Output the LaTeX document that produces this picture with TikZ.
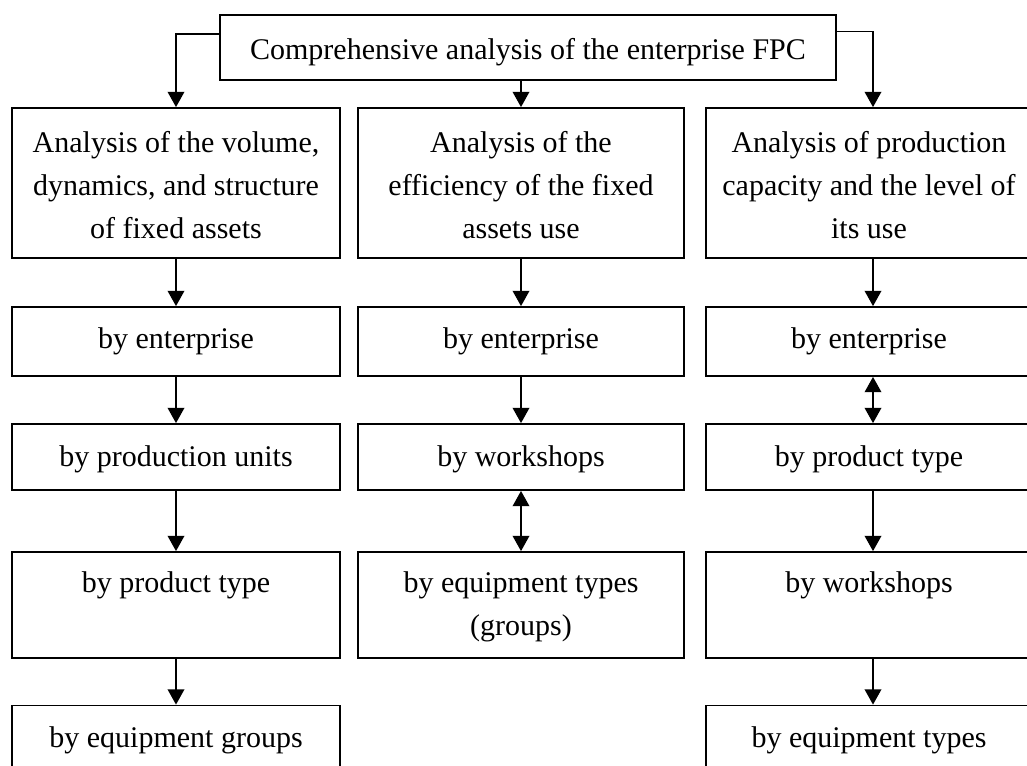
\documentclass[tikz,border=0pt]{standalone}
\usepackage{fontspec}
\setmainfont{Liberation Serif}
\usetikzlibrary{arrows.meta}
\newcommand{\lift}[1]{\rule{0pt}{#1}}
\begin{document}
\begin{tikzpicture}[x=0.75pt,y=-0.75pt,
  box/.style={draw,line width=1.35pt,inner sep=0pt,align=center,font=\fontsize{22.5}{32.25}\selectfont},
  colL/.style={box,minimum width=246pt},
  colM/.style={box,minimum width=244.5pt},
  colR/.style={box,minimum width=244.5pt},
  arr/.style={line width=1.2pt,-{Triangle[length=11.5pt,width=12.5pt]}},
  darr/.style={line width=1.2pt,{Triangle[length=11.5pt,width=12.5pt]}-{Triangle[length=11.5pt,width=12.5pt]}}]
\clip (0,0) rectangle (1027,765);
\fill[white] (0,0) rectangle (1027,765);
% top
\node[box,minimum width=462pt,minimum height=48.75pt] (top) at (528,47.5) {\lift{23.5pt}Comprehensive analysis of the enterprise FPC};
% row 1
\node[colL,minimum height=112.5pt] (L1) at (176,183) {\lift{19.5pt}Analysis of the volume,\\dynamics, and structure\\of fixed assets};
\node[colM,minimum height=112.5pt] (M1) at (521,183) {\lift{19.5pt}Analysis of the\\efficiency of the fixed\\assets use};
\node[colR,minimum height=112.5pt] (R1) at (869,183) {\lift{19.5pt}Analysis of production\\capacity and the level of\\its use};
% row 2
\node[colL,minimum height=51.75pt] (L2) at (176,341.5) {by enterprise};
\node[colM,minimum height=51.75pt] (M2) at (521,341.5) {by enterprise};
\node[colR,minimum height=51.75pt] (R2) at (869,341.5) {by enterprise};
% row 3
\node[colL,minimum height=49.5pt] (L3) at (176,457) {\lift{19pt}by production units};
\node[colM,minimum height=49.5pt] (M3) at (521,457) {\lift{19pt}by workshops};
\node[colR,minimum height=49.5pt] (R3) at (869,457) {\lift{19pt}by product type};
% row 4
\node[colL,minimum height=79.5pt] (L4) at (176,605) {\lift{19pt}by product type\\\vphantom{(}};
\node[colM,minimum height=79.5pt] (M4) at (521,605) {\lift{19pt}by equipment types\\(groups)};
\node[colR,minimum height=79.5pt] (R4) at (869,605) {\lift{19pt}by workshops\\\vphantom{(}};
% row 5
\node[colL,minimum height=51.75pt] (L5) at (176,740) {by equipment groups};
\node[colR,minimum height=51.75pt] (R5) at (869,740) {by equipment types};
% connectors from top
\draw[arr] ([yshift=10pt]top.west) -| (L1.north);
\draw[arr] (M1.north |- top.south) -- (M1.north);
\draw[arr] ([yshift=12pt]top.east) -| ([xshift=3pt]R1.north);
% left column
\draw[arr] (L1) -- (L2);
\draw[arr] (L2) -- (L3);
\draw[arr] (L3) -- (L4);
\draw[arr] (L4) -- (L5);
% middle column
\draw[arr] (M1) -- (M2);
\draw[arr] (M2) -- (M3);
\draw[darr] (M3) -- (M4);
% right column
\draw[arr] ([xshift=3pt]R1.south) -- ([xshift=3pt]R2.north);
\draw[darr] ([xshift=3pt]R2.south) -- ([xshift=3pt]R3.north);
\draw[arr] ([xshift=3pt]R3.south) -- ([xshift=3pt]R4.north);
\draw[arr] ([xshift=3pt]R4.south) -- ([xshift=3pt]R5.north);
\end{tikzpicture}
\end{document}
